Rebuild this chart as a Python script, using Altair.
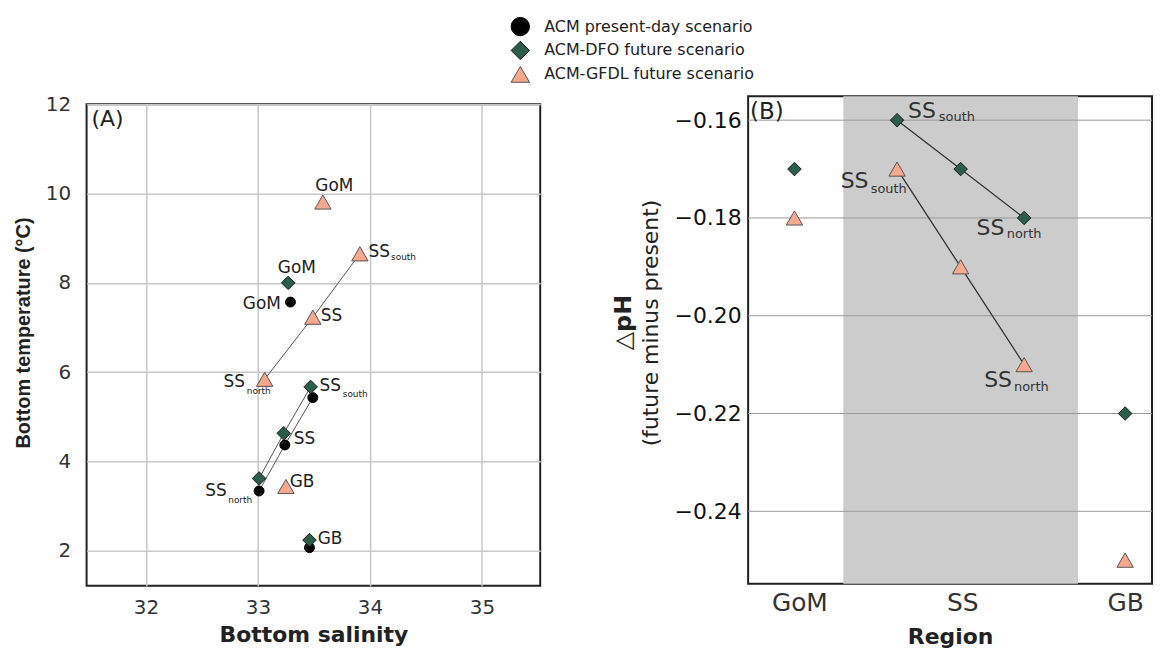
import json
import altair as alt
import pandas as pd

FONT = "DejaVu Sans"

# ---------------- data ----------------
scenarios = ["ACM present-day scenario", "ACM-DFO future scenario", "ACM-GFDL future scenario"]
fills = ["#000000", "#2b5d4b", "#f8a88e"]
strokes = ["#000000", "#1a1a1a", "#555555"]
shapes = ["circle", "diamond", "triangle-up"]
sizes = [100, 270, 290]

# Panel A: bottom salinity / temperature
a_regions = ["GoM", "SS", "SS_south", "SS_north", "GB"]
a_line_order = [None, 2, 3, 1, None]
acm_sal = [33.29, 33.24, 33.49, 33.01, 33.46]
acm_temp = [7.57, 4.37, 5.43, 3.34, 2.07]
dfo_sal = [33.27, 33.23, 33.47, 33.01, 33.46]
dfo_temp = [8.00, 4.63, 5.67, 3.62, 2.24]
gfdl_sal = [33.58, 33.49, 33.91, 33.06, 33.25]
gfdl_temp = [9.81, 7.23, 8.65, 5.84, 3.44]
sal_ticks = [32, 33, 34, 35]
temp_ticks = [2, 4, 6, 8, 10, 12]

# Panel B: delta pH by region
b_regions = ["GoM", "SS_south", "SS", "SS_north", "GB"]
b_pos = [0.97, 1.60, 1.99, 2.38, 3.00]
b_line_order = [None, 1, 2, 3, None]
dfo_dph = [-0.17, -0.16, -0.17, -0.18, -0.22]
gfdl_dph = [-0.18, -0.17, -0.19, -0.21, -0.25]
region_ticks = ["GoM", "SS", "GB"]
region_tick_pos = [1, 2, 3]
ss_band = [1.27, 2.71]
dph_ticks = [-0.16, -0.18, -0.20, -0.22, -0.24]

# ---------------- tables ----------------
rows_a = []
for s, (xs, ys) in enumerate([(acm_sal, acm_temp), (dfo_sal, dfo_temp), (gfdl_sal, gfdl_temp)]):
    for i, r in enumerate(a_regions):
        rows_a.append({"scenario": scenarios[s], "region": r, "x": xs[i], "y": ys[i],
                       "order": a_line_order[i]})
df_a = pd.DataFrame(rows_a)

rows_b = []
for s, ys in [(1, dfo_dph), (2, gfdl_dph)]:
    for i, r in enumerate(b_regions):
        rows_b.append({"scenario": scenarios[s], "region": r, "x": b_pos[i], "y": ys[i],
                       "order": b_line_order[i]})
df_b = pd.DataFrame(rows_b)

fill_enc = alt.Fill("scenario:N", scale=alt.Scale(domain=scenarios, range=fills), legend=None)
stroke_enc = alt.Stroke("scenario:N", scale=alt.Scale(domain=scenarios, range=strokes), legend=None)
shape_enc = alt.Shape("scenario:N", scale=alt.Scale(domain=scenarios, range=shapes), legend=None)
size_enc = alt.Size("scenario:N", scale=alt.Scale(domain=scenarios, range=sizes), legend=None)

NOFRAME = alt.ViewBackground(stroke="transparent")

# ---------------- legend (drawn from the scenario list) ----------------
df_leg = pd.DataFrame({"scenario": scenarios})
leg_y = alt.Y("scenario:N", scale=alt.Scale(domain=scenarios), axis=None)
leg_sym = alt.Chart(df_leg).mark_point(filled=True, opacity=1, strokeWidth=1, size=340).encode(
    y=leg_y, x=alt.value(436), fill=fill_enc, stroke=stroke_enc, shape=shape_enc)
leg_txt = alt.Chart(df_leg).mark_text(align="left", baseline="middle", fontSize=16, font=FONT,
                                      color="#222").encode(y=leg_y, x=alt.value(460), text="scenario:N")
legend_chart = alt.layer(leg_sym, leg_txt).properties(width=760, height=72, view=NOFRAME)


def spacer():
    return alt.Chart(pd.DataFrame({"t": [0]})).mark_point(opacity=0, size=1).encode(
        x=alt.value(0), y=alt.value(0)).properties(width=1, height=1, view=NOFRAME)


# ---------------- panel A ----------------
WA, HA = 456, 484
xA = alt.X("x:Q", scale=alt.Scale(domain=[31.47, 35.52], nice=False, zero=False),
           axis=alt.Axis(values=sal_ticks, format="d", title="Bottom salinity", grid=True,
                         gridColor="#c8c8c8", gridWidth=1.5, ticks=False, domain=False,
                         labelFontSize=20, labelPadding=12, titleFontSize=22,
                         titleFontWeight="bold", titlePadding=7))
yA = alt.Y("y:Q", scale=alt.Scale(domain=[1.22, 12], nice=False, zero=False),
           axis=alt.Axis(values=temp_ticks, format="d", title="Bottom temperature (°C)",
                         grid=True, gridColor="#c8c8c8", gridWidth=1.5, ticks=False,
                         domain=False, labelFontSize=20, labelPadding=16,
                         titleFont="Liberation Sans", titleFontSize=20, titleFontWeight="bold",
                         titleAngle=270, titleX=-57, titleY=229.5, titleBaseline="alphabetic",
                         titleAlign="center"))

lines_a = alt.Chart(df_a).transform_filter("datum.order != null").mark_line(
    color="#555555", strokeWidth=1).encode(x=xA, y=yA, detail="scenario:N", order="order:Q")
points_a = alt.Chart(df_a).mark_point(filled=True, opacity=1, strokeWidth=1).encode(
    x=xA, y=yA, fill=fill_enc, stroke=stroke_enc, shape=shape_enc, size=size_enc)

# label layout: (scenario index, region, text, align, dx, dy, subscript, sub dx, sub dy)
a_label_layout = [
    (2, "GoM", "GoM", "center", 11.5, -16, "", 0, 0),
    (2, "SS_south", "SS", "left", 8.7, -2, "south", 31.3, 3.4),
    (1, "GoM", "GoM", "center", 8.7, -14.7, "", 0, 0),
    (0, "GoM", "GoM", "right", -9.6, 1.7, "", 0, 0),
    (2, "SS", "SS", "left", 8, -1, "", 0, 0),
    (2, "SS_north", "SS", "left", -41.5, 3, "north", -18, 11.5),
    (1, "SS_south", "SS", "left", 9, -0.5, "south", 32.3, 7.3),
    (1, "SS", "SS", "left", 10, 6, "", 0, 0),
    (0, "SS_north", "SS", "left", -54, 0.5, "north", -31, 8.7),
    (2, "GB", "GB", "left", 3.7, -4, "", 0, 0),
    (1, "GB", "GB", "left", 8.3, -1.5, "", 0, 0),
]
a_lists = [(acm_sal, acm_temp), (dfo_sal, dfo_temp), (gfdl_sal, gfdl_temp)]
a_text_layers = []
for s, reg, txt, al, dx, dy, sub, sdx, sdy in a_label_layout:
    i = a_regions.index(reg)
    d = pd.DataFrame({"x": [a_lists[s][0][i]], "y": [a_lists[s][1][i]], "t": [txt], "u": [sub]})
    a_text_layers.append(alt.Chart(d).mark_text(align=al, baseline="middle", dx=dx, dy=dy,
                                                fontSize=17, font=FONT, color="#222").encode(
        x=xA, y=yA, text="t:N"))
    if sub:
        a_text_layers.append(alt.Chart(d).mark_text(align="left", baseline="middle", dx=sdx, dy=sdy,
                                                    fontSize=9, font=FONT, color="#222").encode(
            x=xA, y=yA, text="u:N"))

tag_a = alt.Chart(pd.DataFrame({"t": ["(A)"]})).mark_text(
    align="left", baseline="middle", fontSize=22, font=FONT, color="#222").encode(
    x=alt.value(5), y=alt.value(15), text="t:N")

panel_a = alt.layer(lines_a, points_a, *a_text_layers, tag_a).properties(width=WA, height=HA)

# ---------------- panel B ----------------
WB, HB = 406, 490
xB = alt.X("x:Q", scale=alt.Scale(domain=[0.6855, 3.165], nice=False, zero=False),
           axis=alt.Axis(values=region_tick_pos, labelExpr=json.dumps(region_ticks) + "[datum.value - 1]",
                         title="Region", grid=False, ticks=False, domain=False,
                         labelFontSize=25, labelPadding=7, titleFontSize=22,
                         titleFontWeight="bold", titlePadding=11))
yB = alt.Y("y:Q", scale=alt.Scale(domain=[-0.2548, -0.1551], nice=False, zero=False),
           axis=alt.Axis(values=dph_ticks, format=".2f", title="(future minus present)",
                         grid=False, ticks=False, domain=False, labelFontSize=22,
                         labelPadding=7, labelColor="#111", titleFontSize=22,
                         titleFontWeight="normal", titleAngle=270, titleX=-91, titleY=227.5,
                         titleBaseline="alphabetic", titleAlign="center"))

band = alt.Chart(pd.DataFrame({"x": [ss_band[0]], "x2": [ss_band[1]]})).mark_rect(
    color="#cccccc").encode(x=xB, x2="x2:Q", y=alt.value(0), y2=alt.value(HB))
grid_b = alt.Chart(pd.DataFrame({"y": dph_ticks})).mark_rule(color="#9a9a9a", strokeWidth=1).encode(
    y=yB, x=alt.value(0), x2=alt.value(WB))
lines_b = alt.Chart(df_b).transform_filter("datum.order != null").mark_line(
    color="#333333", strokeWidth=1.3).encode(x=xB, y=yB, detail="scenario:N", order="order:Q")
points_b = alt.Chart(df_b).mark_point(filled=True, opacity=1, strokeWidth=1).encode(
    x=xB, y=yB, fill=fill_enc, stroke=stroke_enc, shape=shape_enc, size=size_enc)

b_label_layout = [
    (1, "SS_south", 11, -9.3, 42, -3.5, "south"),
    (2, "SS_south", -56.7, 12.4, -26.5, 19.9, "south"),
    (1, "SS_north", -47.8, 9.9, -17.5, 16.5, "north"),
    (2, "SS_north", -40.2, 15.7, -10.2, 22.4, "north"),
]
b_lists = {1: dfo_dph, 2: gfdl_dph}
b_text_layers = []
for s, reg, dx, dy, sdx, sdy, sub in b_label_layout:
    i = b_regions.index(reg)
    d = pd.DataFrame({"x": [b_pos[i]], "y": [b_lists[s][i]], "t": ["SS"], "u": [sub]})
    b_text_layers.append(alt.Chart(d).mark_text(align="left", baseline="middle", dx=dx, dy=dy,
                                                fontSize=22, font=FONT, color="#333").encode(
        x=xB, y=yB, text="t:N"))
    b_text_layers.append(alt.Chart(d).mark_text(align="left", baseline="middle", dx=sdx, dy=sdy,
                                                fontSize=13, font=FONT, color="#333").encode(
        x=xB, y=yB, text="u:N"))

tag_b = alt.Chart(pd.DataFrame({"t": ["(B)"]})).mark_text(
    align="left", baseline="middle", fontSize=23, font=FONT, color="#222").encode(
    x=alt.value(2), y=alt.value(15.5), text="t:N")
dph_title = alt.Chart(pd.DataFrame({"t": ["△pH"]})).mark_text(
    align="center", baseline="alphabetic", angle=270, fontSize=24, fontWeight="bold",
    font=FONT, color="#222").encode(x=alt.value(-118), y=alt.value(227.5), text="t:N")

panel_b = alt.layer(band, grid_b, lines_b, points_b, *b_text_layers, tag_b, dph_title).properties(
    width=WB, height=HB)

# invisible spacers: panel B sits a few pixels higher than panel A
col_a = alt.vconcat(spacer(), panel_a, spacing=0)
col_b = alt.vconcat(spacer(), panel_b, spacing=2)

panels = alt.hconcat(col_a, col_b, spacing=70)

chart = alt.vconcat(legend_chart, panels, spacing=2).properties(
    padding={"left": 5, "right": 0, "top": 4, "bottom": 0}
).configure_view(stroke="#222222", strokeWidth=2).configure_axis(
    labelFont=FONT, titleFont=FONT, labelColor="#333333", titleColor="#222222"
)

chart.save("out.html", embed_options={"renderer": "svg", "actions": False})
